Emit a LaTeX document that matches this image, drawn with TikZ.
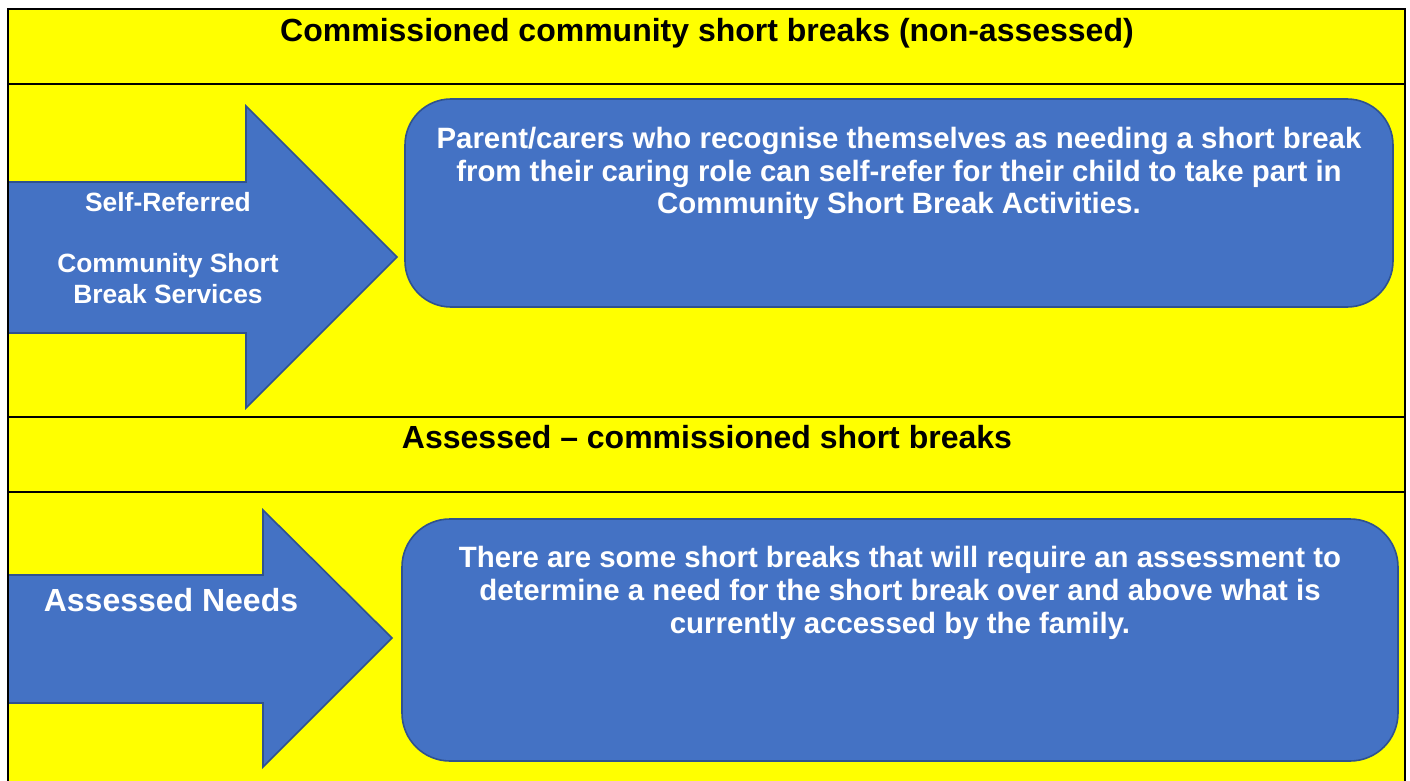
\documentclass[tikz,border=0pt]{standalone}
\usepackage{fontspec}
\setmainfont{Liberation Sans}
\usepackage{xcolor}
\definecolor{panelyellow}{HTML}{FFFF00}
\definecolor{boxblue}{HTML}{4472C4}
\definecolor{boxedge}{HTML}{2F528F}

\begin{document}
\begin{tikzpicture}[x=0.5pt,y=-0.5pt,
  bluearrow/.style={fill=boxblue,draw=boxedge,line width=0.8pt,line join=miter},
  bluebox/.style={fill=boxblue,draw=boxedge,line width=0.8pt},
  heading/.style={font=\bfseries\fontsize{16}{19}\selectfont,inner sep=0pt},
  boxtext/.style={font=\bfseries\fontsize{14.7}{16.3}\selectfont,text=white,align=center,inner sep=0pt,anchor=north}]

\useasboundingbox (0,0) rectangle (1410,781);

% Yellow panel
\fill[panelyellow] (8,9) rectangle (1405,800);

% Self-referred arrow and box
\draw[bluearrow] (8,182) -- (246,182) -- (246,106) -- (397,257) -- (246,408) -- (246,333) -- (8,333) -- cycle;
\draw[bluebox,rounded corners=23pt] (405,99) rectangle (1393,307);

% Assessed arrow and box
\draw[bluearrow] (8,575) -- (263,575) -- (263,510) -- (392,638) -- (263,767) -- (263,703) -- (8,703) -- cycle;
\draw[bluebox,rounded corners=24pt] (402,519) rectangle (1398,761);

% Table lines
\draw[line width=1.3pt] (8,800) -- (8,9) -- (1405,9) -- (1405,800);
\draw[line width=1.3pt] (8,84) -- (1405,84);
\draw[line width=1.3pt] (8,417) -- (1405,417);
\draw[line width=1.3pt] (8,492) -- (1405,492);

% Headings
\node[heading] (nonassessed) at (707,33) {Commissioned community short breaks (non-assessed)};
\node[heading] (assessed) at (707,437) {Assessed – commissioned short breaks};

% Texts
\node[boxtext,font=\bfseries\fontsize{13.2}{15.3}\selectfont] (selfref) at (168,192) {Self-Referred\\[15.3pt]Community Short\\Break Services};
\node[boxtext] (selfreftext) at (899,127) {Parent/carers who recognise themselves as needing a short break\\from their caring role can self-refer for their child to take part in\\Community Short Break Activities.};
\node[boxtext,font=\bfseries\fontsize{16}{19}\selectfont,anchor=center] (needs) at (171,600) {Assessed Needs};
\node[boxtext,font=\bfseries\fontsize{14.7}{16.5}\selectfont] (needstext) at (900,546) {There are some short breaks that will require an assessment to\\determine a need for the short break over and above what is\\currently accessed by the family.};

\end{tikzpicture}
\end{document}
